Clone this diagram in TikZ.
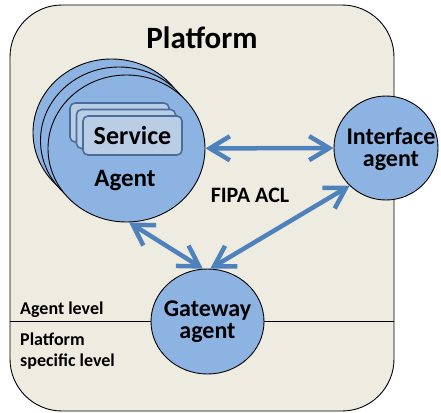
\documentclass[tikz,border=0pt]{standalone}
\usepackage{fontspec}
\setmainfont{Carlito}
\usetikzlibrary{arrows.meta,shapes.geometric}
\definecolor{tanbg}{HTML}{EEECE1}
\definecolor{circfill}{HTML}{8DB3E2}
\definecolor{arrblue}{HTML}{4F81BD}
\definecolor{svcfill}{HTML}{B9CDE5}
\definecolor{svcdraw}{HTML}{4A6E9C}
\tikzset{
  agentc/.style={ellipse, draw=black, line width=0.9pt, fill=circfill, inner sep=0pt, minimum width=157pt, minimum height=147pt},
  roundc/.style={ellipse, draw=black, line width=0.9pt, fill=circfill, inner sep=0pt},
  svcbox/.style={rectangle, rounded corners=5pt, draw=svcdraw, line width=1.6pt, fill=svcfill, minimum width=99pt, minimum height=39pt, inner sep=0pt},
  tipv/.tip={Straight Barb[length=20pt,width=24pt,line width=4.5pt]},
  arr/.style={draw=arrblue, line width=4.5pt, tipv-tipv},
  lbl/.style={inner sep=0pt, font=\bfseries\fontsize{18}{21}\selectfont, align=left}
}
\begin{document}
\begin{tikzpicture}[x=1pt,y=-1pt]
\useasboundingbox (0,0) rectangle (441,412);
\draw[fill=tanbg, line width=0.9pt, rounded corners=52pt] (10,5) rectangle (394,411);
\draw[line width=0.9pt] (10,321) -- (394,321);
\node[inner sep=0pt, font=\bfseries\fontsize{31}{31}\selectfont] (title) at (202,38) {Platform};
% agent stack
\node[agentc] (agentb) at (111.5,132.5) {};
\node[agentc] (agentm) at (119,140.5) {};
\node[agentc] (agent) at (126.5,148.5) {};
\node[svcbox] (svcb) at (119.5,122.5) {};
\node[svcbox] (svcm) at (126,129) {};
\node[svcbox, font=\bfseries\fontsize{26}{26}\selectfont] (svc) at (132.5,135.5) {Service};
\node[inner sep=0pt, font=\bfseries\fontsize{25}{25}\selectfont] (agentlbl) at (125,181) {Agent};
% interface agent
\node[roundc, minimum width=104pt, minimum height=104pt] (iface) at (386,148) {};
\node[inner sep=0pt, align=center, font=\bfseries\fontsize{24}{22}\selectfont] (ifacelbl) at (391,149) {Interface\\agent};
% gateway agent
\node[roundc, minimum width=113pt, minimum height=105pt] (gw) at (207.5,321.5) {};
\node[inner sep=0pt, align=center, font=\bfseries\fontsize{24}{22}\selectfont] (gwlbl) at (207.5,322) {Gateway\\agent};
% labels
\node[inner sep=0pt, font=\bfseries\fontsize{22}{22}\selectfont] (fipa) at (250,195) {FIPA ACL};
\node[lbl, anchor=base west] (alevel) at (20,314) {Agent level};
\node[lbl, anchor=north west] (plevel) at (20,333) {Platform\\specific level};
% arrows
\draw[arr] (agent) -- (iface);
\draw[arr] (agent.272) -- (gw.95);
\draw[arr] (iface.226) -- (gw.87);
\end{tikzpicture}
\end{document}
